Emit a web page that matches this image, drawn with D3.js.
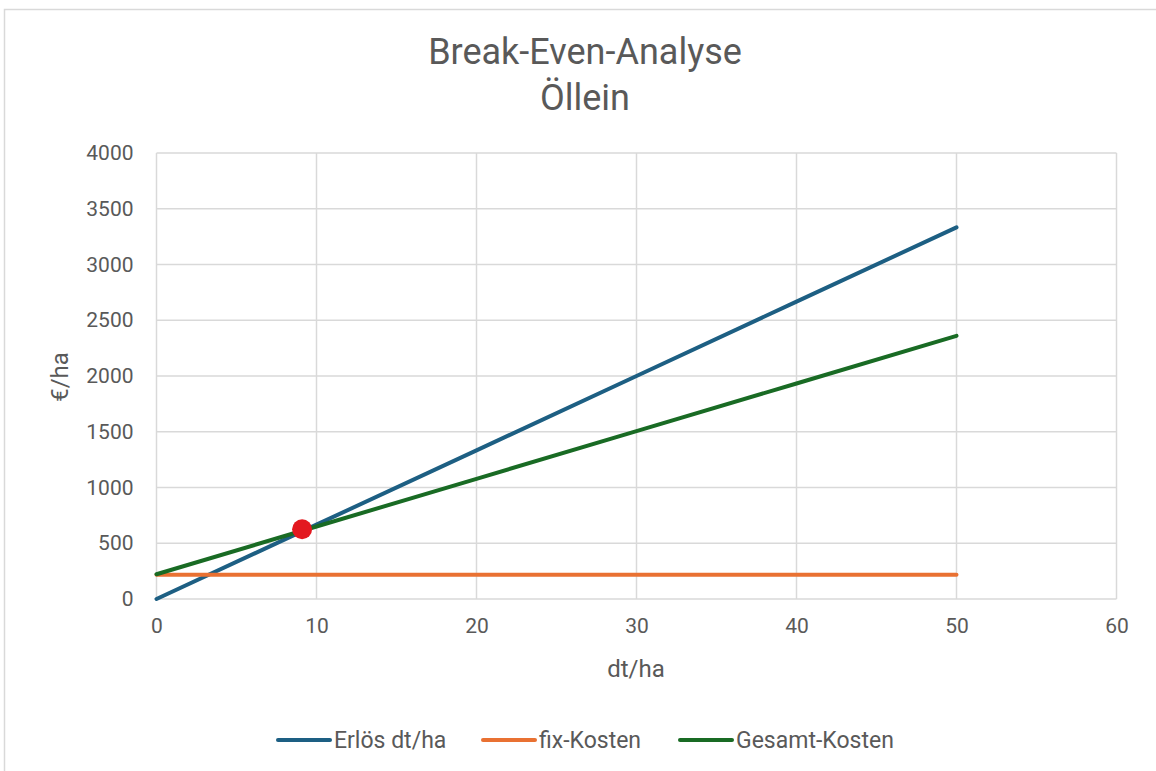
<!DOCTYPE html>
<html><head><meta charset="utf-8">
<script src="https://cdn.jsdelivr.net/npm/d3@7"></script>
<style>body{margin:0;background:#fff}text{font-family:Roboto,"Noto Sans",sans-serif;fill:#595959}</style>
</head><body><svg id="c" width="1156" height="771"></svg>
<script>
const xValues = [0, 10, 20, 30, 40, 50];
const erloes = [0, 667, 1333, 2000, 2667, 3333];
const fixKosten = [218, 218, 218, 218, 218, 218];
const gesamtKosten = [222, 650, 1078, 1505, 1933, 2360];
const breakEven = [{x: 9.1, y: 626}];
const xTicks = [0, 10, 20, 30, 40, 50, 60];
const yTicks = [0, 500, 1000, 1500, 2000, 2500, 3000, 3500, 4000];
const seriesNames = ["Erlös dt/ha", "fix-Kosten", "Gesamt-Kosten"];
const colors = ["#1d5f83", "#e97132", "#196b24"];

const svg = d3.select("#c");
svg.append("rect").attr("x",4.5).attr("y",9.5).attr("width",1170).attr("height",780)
  .attr("fill","#fff").attr("stroke","#d9d9d9").attr("stroke-width",1.5);

const x = d3.scaleLinear().domain([0,60]).range([156.5,1116.5]);
const y = d3.scaleLinear().domain([0,4000]).range([599,153]);

// grid
const g = svg.append("g");
g.selectAll(".vg").data(xTicks).join("line").attr("x1",d=>x(d)).attr("x2",d=>x(d))
  .attr("y1",y(0)).attr("y2",y(4000)).attr("stroke","#d9d9d9").attr("stroke-width",1.5);
g.selectAll(".hg").data(yTicks).join("line").attr("y1",d=>y(d)).attr("y2",d=>y(d))
  .attr("x1",x(0)).attr("x2",x(60)).attr("stroke","#d9d9d9").attr("stroke-width",1.5);

// axes
const xAxis = d3.axisBottom(x).tickValues(xTicks).tickFormat(d3.format("d")).tickSize(0).tickPadding(22);
const xa = svg.append("g").attr("transform",`translate(0,${y(0)})`).call(xAxis);
xa.select(".domain").remove();
xa.selectAll("text").style("font-size","21px").attr("fill","#595959").attr("dy","0.55em");
const yAxis = d3.axisLeft(y).tickValues(yTicks).tickFormat(d3.format("d")).tickSize(0).tickPadding(23);
const ya = svg.append("g").attr("transform",`translate(${x(0)},0)`).call(yAxis);
ya.select(".domain").remove();
ya.selectAll("text").style("font-size","21px").attr("fill","#595959");

// lines
const series = [erloes, fixKosten, gesamtKosten];
const line = d3.line().x((d,i)=>x(xValues[i])).y(d=>y(d));
series.forEach((s,i)=>{
  svg.append("path").datum(s).attr("d",line).attr("fill","none")
    .attr("stroke",colors[i]).attr("stroke-width",4).attr("stroke-linecap","round");
});
svg.selectAll(".pt").data(breakEven).join("circle").attr("cx",d=>x(d.x)).attr("cy",d=>y(d.y))
  .attr("r",10).attr("fill","#e3181f");

// titles
svg.append("text").attr("x",585).attr("y",64).attr("text-anchor","middle").style("font-size","36px").text("Break-Even-Analyse");
svg.append("text").attr("x",585).attr("y",110).attr("text-anchor","middle").style("font-size","36px").text("Öllein");
svg.append("text").attr("x",636).attr("y",677).attr("text-anchor","middle").style("font-size","24px").text("dt/ha");
svg.append("text").attr("transform","translate(68,377) rotate(-90)").attr("text-anchor","middle").style("font-size","24px").text("€/ha");

// legend
const legX = [278, 483, 680];
seriesNames.forEach((n,i)=>{
  svg.append("line").attr("x1",legX[i]).attr("x2",legX[i]+52).attr("y1",740).attr("y2",740)
    .attr("stroke",colors[i]).attr("stroke-width",4).attr("stroke-linecap","round");
  svg.append("text").attr("x",legX[i]+56).attr("y",748).style("font-size","23px").text(n);
});
</script></body></html>
